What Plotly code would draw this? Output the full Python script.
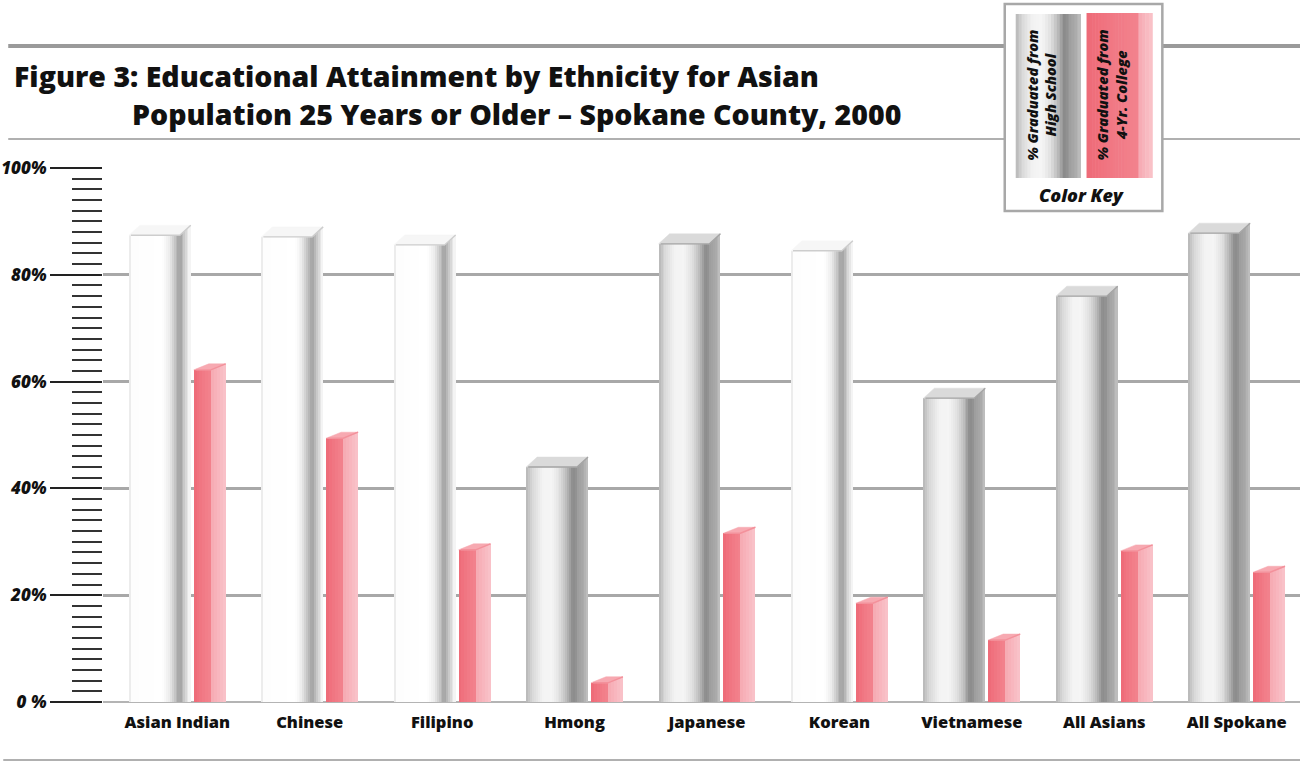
import plotly.graph_objects as go

# ---- data -------------------------------------------------------------
categories = ["Asian Indian", "Chinese", "Filipino", "Hmong", "Japanese",
              "Korean", "Vietnamese", "All Asians", "All Spokane"]
high_school = [87.4, 87.1, 85.6, 44.0, 85.8, 84.5, 56.9, 76.0, 87.8]
college = [62.2, 49.4, 28.5, 3.6, 31.6, 18.5, 11.6, 28.3, 24.3]
y_tick_vals = [0, 20, 40, 60, 80, 100]
y_tick_text = ["0 %", "20%", "40%", "60%", "80%", "100%"]

# surface finish of the high-school column in each group
finish = ["pale", "pale", "pale", "chrome", "chrome", "pale", "chrome", "chrome", "chrome"]

# ---- page geometry (pixels) ------------------------------------------
W, H = 1301, 763
ML, MR, MT, MB = 100, 1, 168, 61
PW, PH = W - ML - MR, H - MT - MB
PX = 132.75                      # pixels per category step
X0 = -(174.5 - ML) / PX          # left end of the category axis
X1 = X0 + PW / PX
PY = PH / 100.0                  # pixels per percentage point

FONT = "Open Sans"


def ux(px):
    return px / PX


def uy(px):
    return px / PY


def xp(px):
    return (px - ML) / PW


def yp(py):
    return (H - MB - py) / PH


def hex2rgb(h):
    h = h.lstrip("#")
    return tuple(int(h[i:i + 2], 16) for i in (0, 2, 4))


def interp(stops, t):
    for (t0, c0), (t1, c1) in zip(stops, stops[1:]):
        if t0 <= t <= t1:
            f = 0 if t1 == t0 else (t - t0) / (t1 - t0)
            a, b = hex2rgb(c0), hex2rgb(c1)
            return "#%02x%02x%02x" % tuple(round(a[j] + (b[j] - a[j]) * f) for j in range(3))
    return stops[-1][1]


# shading profiles across a face (0 = left edge, 1 = right edge)
CHROME_FRONT = [(0, "#b5b5b5"), (0.12, "#d8d8d8"), (0.32, "#f3f3f3"), (0.5, "#f5f5f5"),
                (0.66, "#e0e0e0"), (0.8, "#bababa"), (0.92, "#8a8a8a"), (1.0, "#949494")]
CHROME_SIDE = [(0, "#9c9c9c"), (0.6, "#aaaaaa"), (1.0, "#c2c2c2")]
PALE_FRONT = [(0, "#e2e2e2"), (0.05, "#fdfdfd"), (0.66, "#ffffff"), (0.8, "#ebebeb"),
              (0.9, "#c6c6c6"), (1.0, "#a2a2a2")]
PALE_SIDE = [(0, "#9e9e9e"), (0.4, "#c8c8c8"), (1.0, "#fbfbfb")]
PINK_FRONT = [(0, "#ee6a77"), (0.5, "#f17884"), (1.0, "#f2838e")]
PINK_SIDE = [(0, "#f6a9b2"), (1.0, "#f9c4ca")]

# column faces, relative to the category centre (pixels)
HS_LEFT, HS_FRONT, HS_DX, HS_DY = -48.5, 51.0, 11.0, 10.0
CO_LEFT, CO_FRONT, CO_DX, CO_DY = 16.5, 17.0, 15.0, 6.0

idx = list(range(len(categories)))
fig = go.Figure()


def add_face(vals, left_px, width_px, n, profile_of, rise_px=0.0):
    for k in range(n):
        t = (k + 0.5) / n
        extra = 0.7 if k < n - 1 else 0.0
        heights = [v + uy(rise_px) * (k + 1) / n for v in vals] if rise_px else vals
        fig.add_trace(go.Bar(
            x=idx, y=heights,
            offset=ux(left_px + width_px * k / n),
            width=ux(width_px / n + extra),
            marker=dict(color=[interp(profile_of(i), t) for i in idx], line=dict(width=0)),
            hoverinfo="skip", showlegend=False,
        ))


# high-school columns: front face and side face
add_face(high_school, HS_LEFT, HS_FRONT, 26,
         lambda i: CHROME_FRONT if finish[i] == "chrome" else PALE_FRONT)
add_face(high_school, HS_LEFT + HS_FRONT, HS_DX, 6,
         lambda i: CHROME_SIDE if finish[i] == "chrome" else PALE_SIDE, HS_DY)
# college columns: front face and side face
add_face(college, CO_LEFT, CO_FRONT, 6, lambda i: PINK_FRONT)
add_face(college, CO_LEFT + CO_FRONT, CO_DX, 5, lambda i: PINK_SIDE, CO_DY)


def add_tops(vals, left_px, width_px, dx, dy, fill_of, edge_of):
    for i, v in enumerate(vals):
        xl = i + ux(left_px)
        xm = i + ux(left_px + width_px)
        d = uy(dy)
        fig.add_trace(go.Scatter(
            x=[xl, xm, xm + ux(dx), xl + ux(dx), xl],
            y=[v, v, v + d, v + d, v],
            mode="lines", fill="toself", fillcolor=fill_of(i),
            line=dict(width=0.5, color=fill_of(i)),
            hoverinfo="skip", showlegend=False,
        ))
        fig.add_trace(go.Scatter(
            x=[xl + ux(2), xm, xm + ux(dx)], y=[v, v, v + d],
            mode="lines", line=dict(width=1.4, color=edge_of(i)),
            hoverinfo="skip", showlegend=False,
        ))


add_tops(high_school, HS_LEFT, HS_FRONT, HS_DX, HS_DY,
         lambda i: "#dadada" if finish[i] == "chrome" else "#f6f6f6",
         lambda i: "#a4a4a4" if finish[i] == "chrome" else "#cdcdcd")
add_tops(college, CO_LEFT, CO_FRONT, CO_DX, CO_DY,
         lambda i: "#f7a9b1", lambda i: "#f3919b")

# ---- decorations: rules, key box, titles -----------------------------
shapes = []


def hline(y, x0, x1, color, width):
    shapes.append(dict(type="line", xref="paper", yref="paper",
                       x0=xp(x0), x1=xp(x1), y0=yp(y), y1=yp(y),
                       line=dict(color=color, width=width), layer="above"))


def rect(x0, y0, x1, y1, fill, line_color=None, line_width=0):
    shapes.append(dict(type="rect", xref="paper", yref="paper",
                       x0=xp(x0), x1=xp(x1), y0=yp(y1), y1=yp(y0),
                       fillcolor=fill, layer="above",
                       line=dict(color=line_color or fill, width=line_width)))


hline(46, 5, 1300, "#9a9a9a", 4)
hline(139, 5, 1300, "#b0b0b0", 2)
hline(760, 0, 1300, "#b0b0b0", 2)

# key box
rect(1004, 4, 1162, 211, "#ffffff", "#a8a8a8", 2.5)


def key_column(x_left, front_w, side_w, top_y, bottom_y, front_prof, side_prof, n=18):
    for k in range(n):
        t = (k + 0.5) / n
        x0 = x_left + front_w * k / n
        rect(x0, top_y, x0 + front_w / n + 0.6, bottom_y, interp(front_prof, t))
    for k in range(4):
        t = (k + 0.5) / 4
        x0 = x_left + front_w + side_w * k / 4
        rect(x0, top_y, x0 + side_w / 4 + 0.4, bottom_y, interp(side_prof, t))


key_column(1015, 53, 12, 14, 178, CHROME_FRONT, CHROME_SIDE)
key_column(1086, 52, 14, 13, 178, PINK_FRONT, PINK_SIDE)

title_font = dict(family=FONT, size=28.5, weight=800, color="#111111")
key_font = dict(family=FONT, size=14.5, weight=800, style="italic", color="#111111")

annotations = [
    dict(text="Figure 3: Educational Attainment by Ethnicity for Asian",
         x=xp(9), y=yp(76), xanchor="left", yanchor="middle", font=title_font),
    dict(text="Population 25 Years or Older \u2013 Spokane County, 2000",
         x=xp(127), y=yp(114), xanchor="left", yanchor="middle", font=title_font),
    dict(text="% Graduated from<br>High School", textangle=-90,
         x=xp(1041), y=yp(95), xanchor="center", yanchor="middle", font=key_font),
    dict(text="% Graduated from<br>4-Yr. College", textangle=-90,
         x=xp(1112), y=yp(95), xanchor="center", yanchor="middle", font=key_font),
    dict(text="Color Key", x=xp(1081), y=yp(195), xanchor="center", yanchor="middle",
         font=dict(family=FONT, size=18, weight=800, style="italic", color="#111111")),
]
for a in annotations:
    a.update(xref="paper", yref="paper", showarrow=False)

fig.update_layout(
    width=W, height=H,
    margin=dict(l=ML, r=MR, t=MT, b=MB, pad=0),
    paper_bgcolor="#ffffff", plot_bgcolor="#ffffff",
    barmode="overlay", bargap=0,
    showlegend=False,
    shapes=shapes, annotations=annotations,
    xaxis=dict(range=[X0, X1], tickmode="array", tickvals=idx, ticktext=categories,
               showgrid=False, zeroline=False, showline=False, ticks="",
               ticklabelstandoff=8,
               tickfont=dict(family=FONT, size=16.5, weight=800, color="#111111")),
    yaxis=dict(range=[0, 100], tickmode="array", tickvals=y_tick_vals, ticktext=y_tick_text,
               showgrid=True, gridcolor="#a8a8a8", gridwidth=3,
               zeroline=True, zerolinecolor="#b4b4b4", zerolinewidth=2,
               showline=False, ticks="outside", ticklen=52, tickwidth=2, tickcolor="#222222",
               tickfont=dict(family=FONT, size=17, weight=800, style="italic", color="#111111"),
               minor=dict(dtick=2, ticks="outside", ticklen=30, tickwidth=2,
                          tickcolor="#333333", showgrid=False)),
)

fig.write_html("out.html")
